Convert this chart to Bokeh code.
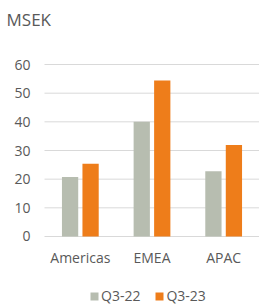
from bokeh.plotting import figure
from bokeh.models import ColumnDataSource, Range1d, Legend, LegendItem, Label
from bokeh.embed import file_html
from bokeh.resources import INLINE

categories = ["Americas", "EMEA", "APAC"]
q3_22 = [20.8, 40.0, 22.8]
q3_23 = [25.4, 54.4, 31.9]
y_ticks = [0, 10, 20, 30, 40, 50, 60]
series_names = ["Q3-22", "Q3-23"]
colors = ["#B7BDB0", "#EE7D1A"]

FONT = "Open Sans"
TXT = "#595959"
GRID = "#D9D9D9"

# category slots 0..3 on the x scale, the left part of the frame holds the y labels
xpos = [i + 0.5 for i in range(len(categories))]
src = ColumnDataSource(dict(cat=categories, x=xpos,
                            xa=[v - 0.143 for v in xpos], xb=[v + 0.143 for v in xpos],
                            a=q3_22, b=q3_23))
tick_src = ColumnDataSource(dict(y=y_ticks, lab=[str(t) for t in y_ticks],
                                 x0=[0] * len(y_ticks), x1=[len(categories)] * len(y_ticks)))

p = figure(x_range=Range1d(-0.614, 3.0), y_range=Range1d(-24.42, 82.33),
           frame_width=259, frame_height=306, output_backend="svg", toolbar_location=None,
           min_border=0, min_border_left=0, min_border_right=0, min_border_top=0,
           min_border_bottom=0)
p.outline_line_color = None
p.axis.visible = False
p.xgrid.visible = False
p.ygrid.visible = False

# gridlines at the y ticks
p.segment(x0="x0", x1="x1", y0="y", y1="y", source=tick_src, line_color=GRID, line_width=1)

r1 = p.vbar(x="xa", top="a", width=0.227, source=src, fill_color=colors[0], line_color=None)
r2 = p.vbar(x="xb", top="b", width=0.227, source=src, fill_color=colors[1], line_color=None)

# y tick labels
p.text(x="x0", y="y", text="lab", source=tick_src, x_offset=-14,
       text_align="right", text_baseline="middle", text_font={"value": FONT},
       text_font_size="14px", text_color=TXT)

# category labels
p.text(x="x", y=0, text="cat", source=src, y_offset=21,
       text_align="center", text_baseline="middle", text_font={"value": FONT},
       text_font_size="14px", text_color=TXT)

title = Label(x=-0.53, y=75.7, x_units="data", y_units="data", text="MSEK",
              text_font=FONT, text_font_size="17px", text_color=TXT,
              text_baseline="middle", text_align="left")
p.add_layout(title)

legend = Legend(items=[LegendItem(label=series_names[0], renderers=[r1]),
                       LegendItem(label=series_names[1], renderers=[r2])],
                orientation="horizontal", location=(89, 1),
                label_text_font=FONT, label_text_font_size="14px", label_text_color=TXT,
                glyph_width=10, glyph_height=10, label_standoff=2, spacing=14,
                label_height=16, padding=0, margin=0, border_line_color=None,
                background_fill_alpha=0)
p.add_layout(legend, "center")

open("out.html", "w").write(file_html(p, INLINE))
